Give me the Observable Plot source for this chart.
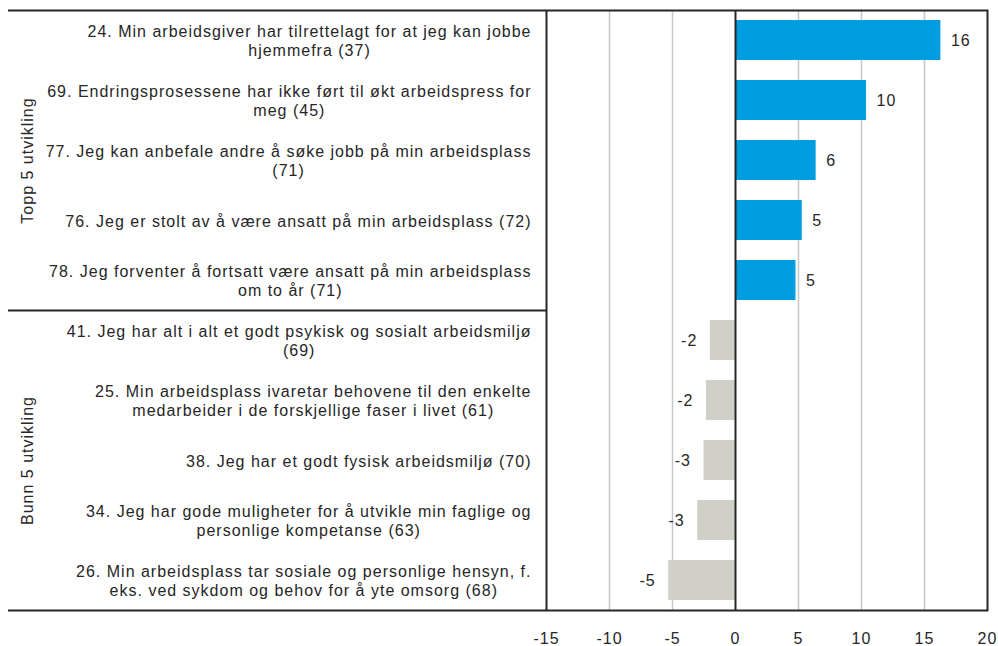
<!DOCTYPE html>
<html>
<head>
<meta charset="utf-8">
<script src="https://cdn.jsdelivr.net/npm/d3@7"></script>
<script src="https://cdn.jsdelivr.net/npm/@observablehq/plot@0.6"></script>
<style>
  html, body { margin: 0; padding: 0; background: #fff; }
  #chart svg text { letter-spacing: 1px; }
</style>
</head>
<body>
<div id="chart"></div>
<script>
// ---- data ----
const questions = [
  "24. Min arbeidsgiver har tilrettelagt for at jeg kan jobbe\nhjemmefra (37)",
  "69. Endringsprosessene har ikke ført til økt arbeidspress for\nmeg (45)",
  "77. Jeg kan anbefale andre å søke jobb på min arbeidsplass\n(71)",
  "76. Jeg er stolt av å være ansatt på min arbeidsplass (72)",
  "78. Jeg forventer å fortsatt være ansatt på min arbeidsplass\nom to år (71)",
  "41. Jeg har alt i alt et godt psykisk og sosialt arbeidsmiljø\n(69)",
  "25. Min arbeidsplass ivaretar behovene til den enkelte\nmedarbeider i de forskjellige faser i livet (61)",
  "38. Jeg har et godt fysisk arbeidsmiljø (70)",
  "34. Jeg har gode muligheter for å utvikle min faglige og\npersonlige kompetanse (63)",
  "26. Min arbeidsplass tar sosiale og personlige hensyn, f.\neks. ved sykdom og behov for å yte omsorg (68)"
];
const changes = [16.3, 10.4, 6.4, 5.3, 4.8, -2.0, -2.3, -2.5, -3.0, -5.3];
const valueLabels = ["16", "10", "6", "5", "5", "-2", "-2", "-3", "-3", "-5"];
const groupNames = ["Topp 5 utvikling", "Bunn 5 utvikling"];
const groupCenterRow = [questions[2], questions[7]];
const groupEndRows = [questions[4], questions[9]];
const xTicks = [-15, -10, -5, 0, 5, 10, 15, 20];
const gridValues = [-10, -5, 5, 10, 15];

// ---- layout / style ----
const W = 998, H = 646;
const mL = 546, mR = 11, mT = 10, mB = 36;
const step = (H - mT - mB) / questions.length;
const blue = "#009ee0", gray = "#d0d0c8", ink = "#262626";

const rows = questions.map((q, i) => ({q, v: changes[i], label: valueLabels[i]}));
const groups = groupNames.map((name, i) => ({name, q: groupCenterRow[i]}));

const plot = Plot.plot({
  width: W, height: H,
  marginLeft: mL, marginRight: mR, marginTop: mT, marginBottom: mB,
  style: {fontFamily: "'Liberation Sans', Arial, sans-serif", fontSize: "16px", color: ink, background: "#fff"},
  x: {domain: [-15, 20], axis: null, label: null},
  y: {domain: questions, paddingInner: 1/3, paddingOuter: 1/6, axis: null, label: null},
  marks: [
    Plot.ruleX(gridValues, {stroke: "#c4c7cb", strokeWidth: 1.5}),
    Plot.barX(rows.filter(d => d.v >= 0), {x: "v", y: "q", fill: blue}),
    Plot.barX(rows.filter(d => d.v < 0), {x: "v", y: "q", fill: gray}),
    Plot.ruleX([0], {stroke: ink, strokeWidth: 2}),
    Plot.text(rows.filter(d => d.v >= 0), {x: "v", y: "q", text: "label", textAnchor: "start", dx: 10, fill: ink, fontSize: 16}),
    Plot.text(rows.filter(d => d.v < 0), {x: "v", y: "q", text: "label", textAnchor: "end", dx: -13, fill: ink, fontSize: 16}),
    Plot.text(rows, {y: "q", text: "q", frameAnchor: "left", textAnchor: "end", dx: -15, lineHeight: 1.2, fill: ink, fontSize: 16}),
    Plot.text(groups, {y: "q", text: "name", frameAnchor: "left", textAnchor: "middle", rotate: -90, dx: -(mL - 27), fill: ink, fontSize: 16}),
    Plot.ruleY([questions[0]], {dy: -step / 2, x1: -15, x2: -15, insetLeft: -(mL - 8), stroke: ink, strokeWidth: 2}),
    Plot.ruleY(groupEndRows, {dy: step / 2, x1: -15, x2: -15, insetLeft: -(mL - 8), stroke: ink, strokeWidth: 2}),
    Plot.frame({stroke: ink, strokeWidth: 2}),
    Plot.axisX({ticks: xTicks, tickSize: 0, tickPadding: 22, tickFormat: d => String(d), fontSize: 16, fill: ink, label: null})
  ]
});

document.getElementById("chart").appendChild(plot);

// center the lines of each multi-line row label within its right-aligned block
plot.querySelectorAll("text").forEach(t => {
  const spans = t.querySelectorAll("tspan");
  if (spans.length < 2) return;
  const w = Math.max(...Array.from(spans, s => s.getComputedTextLength()));
  t.setAttribute("text-anchor", "middle");
  spans.forEach(s => s.setAttribute("text-anchor", "middle"));
  t.setAttribute("transform", (t.getAttribute("transform") || "") + ` translate(${-w / 2},0)`);
});
</script>
</body>
</html>
